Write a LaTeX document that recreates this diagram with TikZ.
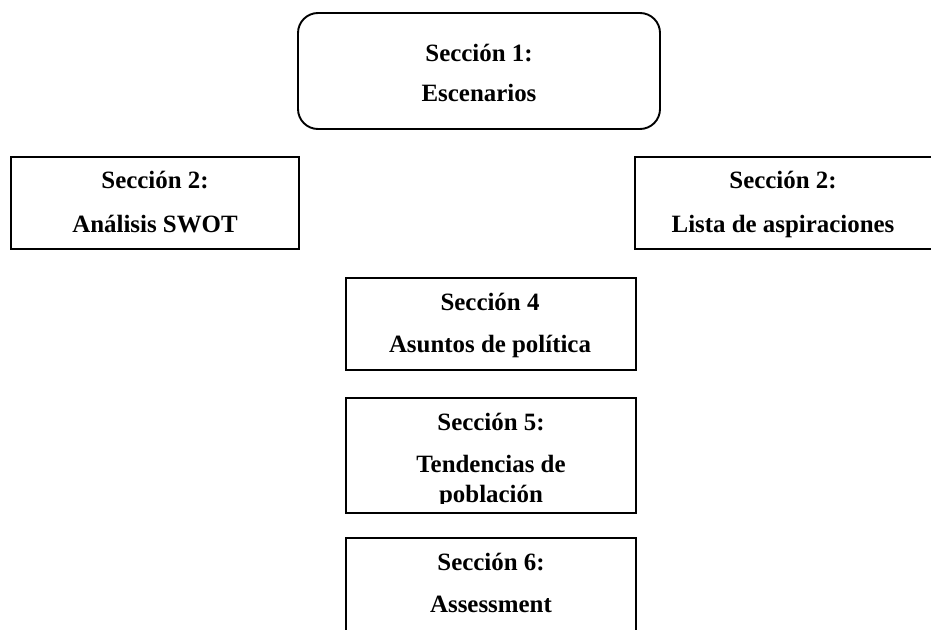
\documentclass[tikz,border=0pt]{standalone}
\usepackage{fontspec}
\setmainfont{Liberation Serif}
\begin{document}
\begin{tikzpicture}[x=1pt,y=-1pt,
  boxline/.style={draw=black,line width=1.9pt,fill=none,inner sep=0pt},
  lbl/.style={anchor=base,inner sep=0pt,font=\fontsize{24.9}{30}\selectfont\bfseries}]
\useasboundingbox (0,0) rectangle (931,629);
\clip (0,0) rectangle (931,629);
% boxes
\draw[boxline,rounded corners=20pt] (298,13) rectangle (660,129);
\node[inner sep=0pt] (b1) at (479,71) {};
\draw[boxline] (11,157) rectangle (299,249);
\node[inner sep=0pt] (b2) at (155,203) {};
\draw[boxline] (635,157) rectangle (940,249);
\node[inner sep=0pt] (b3) at (783,203) {};
\draw[boxline] (346,278) rectangle (636,370);
\node[inner sep=0pt] (b4) at (491,324) {};
\draw[boxline] (346,398) rectangle (636,513);
\node[inner sep=0pt] (b5) at (491,455) {};
\draw[boxline] (346,538) rectangle (636,645);
\node[inner sep=0pt] (b6) at (491,590) {};
% labels
\node[lbl] (t1a) at (479,61) {Sección 1:};
\node[lbl] (t1b) at (479,101) {Escenarios};
\node[lbl] (t2a) at (155,188) {Sección 2:};
\node[lbl] (t2b) at (155,232) {Análisis SWOT};
\node[lbl] (t3a) at (783,188) {Sección 2:};
\node[lbl] (t3b) at (783,232) {Lista de aspiraciones};
\node[lbl] (t4a) at (490,310) {Sección 4};
\node[lbl] (t4b) at (490,352) {Asuntos de política};
\node[lbl] (t5a) at (491,430) {Sección 5:};
\node[lbl] (t5b) at (491,472) {Tendencias de};
\begin{scope}
\clip (346,480) rectangle (636,503);
\node[lbl] (t5c) at (491,502) {población};
\end{scope}
\node[lbl] (t6a) at (491,570) {Sección 6:};
\node[lbl] (t6b) at (491,612) {Assessment};
\end{tikzpicture}
\end{document}
